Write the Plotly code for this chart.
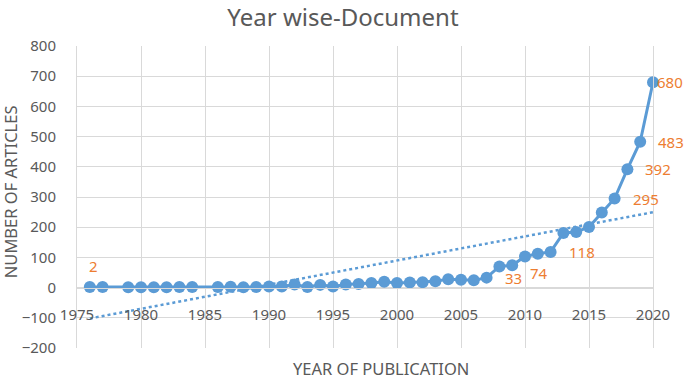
import numpy as np
import plotly.graph_objects as go

years = [1976, 1977, 1979, 1980, 1981, 1982, 1983, 1984, 1986, 1987, 1988, 1989,
         1990, 1991, 1992, 1993, 1994, 1995, 1996, 1997, 1998, 1999, 2000, 2001,
         2002, 2003, 2004, 2005, 2006, 2007, 2008, 2009, 2010, 2011, 2012, 2013,
         2014, 2015, 2016, 2017, 2018, 2019, 2020]
articles = [2, 2, 1, 1, 1, 1, 2, 2, 2, 3, 1, 2,
            4, 4, 10, 2, 9, 4, 10, 12, 15, 19, 15, 17,
            18, 21, 28, 26, 24, 33, 70, 74, 103, 112, 118, 181,
            184, 201, 249, 295, 392, 483, 680]

label_years = [1976, 2007, 2009, 2012, 2017, 2018, 2019, 2020]
label_values = [2, 33, 74, 118, 295, 392, 483, 680]

x_ticks = [1975, 1980, 1985, 1990, 1995, 2000, 2005, 2010, 2015, 2020]
y_ticks = [-200, -100, 0, 100, 200, 300, 400, 500, 600, 700, 800]

BLUE = "#5B9BD5"
ORANGE = "#ED7D31"
GRID = "#D9D9D9"
TXT = "#595959"
FONT = "Noto Sans"

# linear trendline (least squares, as Excel does)
slope, intercept = np.polyfit(years, articles, 1)
trend_x = [years[0], years[-1]]
trend_y = [slope * v + intercept for v in trend_x]

fig = go.Figure()
fig.add_trace(go.Scatter(x=trend_x, y=trend_y, mode="lines",
                         line=dict(color=BLUE, width=2.5, dash="dot"),
                         hoverinfo="skip", showlegend=False))
fig.add_trace(go.Scatter(x=years, y=articles, mode="lines+markers",
                         line=dict(color=BLUE, width=3),
                         marker=dict(color=BLUE, size=12),
                         showlegend=False, cliponaxis=False))

shifts = {1976: (4, 21, "center"), 2020: (3, 0, "left"), 2009: (17, -8, "left")}
for yr, val in zip(label_years, label_values):
    xs, ys, anc = shifts.get(yr, (17, 0, "left"))
    fig.add_annotation(x=yr, y=val, text=str(val), showarrow=False,
                       xanchor=anc, yanchor="middle", xshift=xs, yshift=ys,
                       borderpad=0,
                       font=dict(color=ORANGE, size=15, family=FONT))

fig.add_annotation(text="NUMBER OF ARTICLES", xref="paper", yref="paper",
                   x=-0.114, y=0.517, textangle=-90, showarrow=False,
                   xanchor="center", yanchor="middle",
                   font=dict(color=TXT, size=16.5, family=FONT))
fig.add_annotation(text="YEAR OF PUBLICATION", xref="paper", yref="paper",
                   x=0.528, y=-0.0695, showarrow=False,
                   xanchor="center", yanchor="middle",
                   font=dict(color=TXT, size=16.5, family=FONT))

fig.update_layout(
    width=685, height=382,
    margin=dict(l=77, r=32, t=46, b=34),
    paper_bgcolor="white", plot_bgcolor="white",
    title=dict(text="Year wise-Document", x=0.5007, xref="container",
               xanchor="center", y=0.953, yref="container", yanchor="middle",
               font=dict(color=TXT, size=24, family=FONT)),
    font=dict(family=FONT, color=TXT),
    xaxis=dict(range=[1975, 2020], tickvals=x_ticks, showgrid=True,
               gridcolor=GRID, gridwidth=1, zeroline=False,
               showline=True, linecolor=GRID, mirror=True,
               anchor="free", position=0.2, ticks="",
               ticklabelstandoff=13,
               tickfont=dict(size=15, color=TXT, family=FONT)),
    yaxis=dict(range=[-200, 800], tickvals=y_ticks, showgrid=True,
               gridcolor=GRID, gridwidth=1, zeroline=True, zerolinecolor=GRID,
               zerolinewidth=1, showline=True, linecolor=GRID, mirror=True,
               ticks="", ticklabelstandoff=17,
               tickfont=dict(size=15, color=TXT, family=FONT)),
)

fig.write_html("out.html", config={"displayModeBar": False},
               post_script="document.body.style.margin='0';")
